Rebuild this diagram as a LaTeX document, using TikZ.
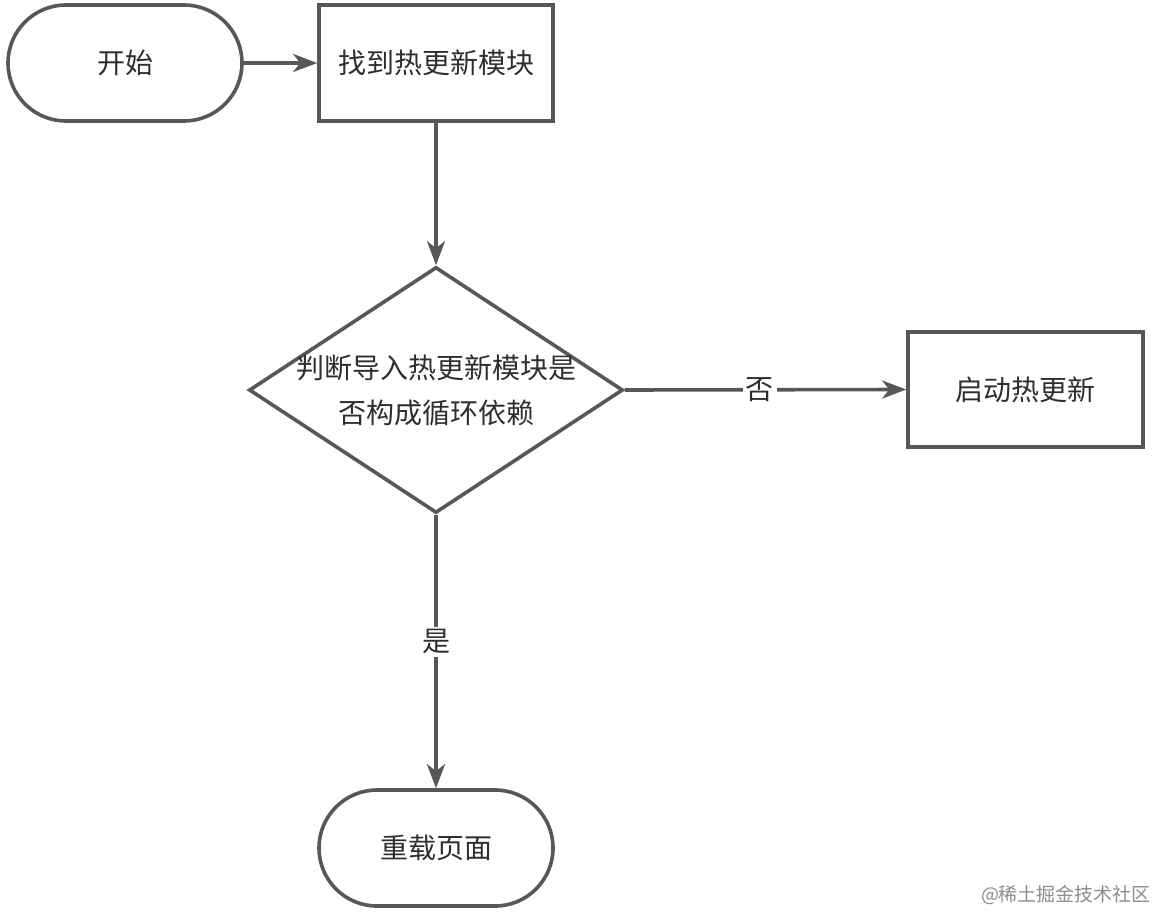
\documentclass[tikz,border=0pt]{standalone}
\usepackage{fontspec}
\setmainfont{Noto Sans CJK SC}
\usetikzlibrary{shapes.geometric,arrows.meta}
\definecolor{linegray}{HTML}{575757}
\definecolor{textgray}{HTML}{2E2E2E}

\begin{document}
\begin{tikzpicture}[x=1pt,y=-1pt,line width=3.6pt]
\tikzstyle{every node}=[font=\fontsize{28}{45}\selectfont, text=textgray]
\tikzstyle{terminal}=[draw=linegray, rectangle, rounded corners=58pt, minimum width=234pt, minimum height=116pt, inner sep=0pt]
\tikzstyle{process}=[draw=linegray, rectangle, minimum width=234pt, minimum height=116pt, inner sep=0pt]
\tikzstyle{decision}=[draw=linegray, diamond, aspect=1.52, minimum width=374pt, minimum height=246pt, inner sep=-6pt, align=center]
\tikzstyle{arrow}=[draw=linegray, -{Stealth[length=24pt,width=18pt,inset=7pt]}]
\tikzstyle{branch}=[fill=white, inner sep=3pt]

\useasboundingbox (0,0) rectangle (1154,912);

\node[terminal] (start) at (125,63) {开始};
\node[process] (find) at (436,63) {找到热更新模块};
\node[decision] (check) at (436,390) {判断导入热更新模块是\\否构成循环依赖};
\node[process] (hot) at (1025.5,389.5) [minimum width=235pt, minimum height=115pt] {启动热更新};
\node[terminal] (reload) at (436,848) {重载页面};

\draw[arrow] (start) -- (find);
\draw[arrow] (find) -- (check);
\draw[arrow] (check.east) -- node[branch, pos=0.48] {否} (hot.west);
\draw[arrow] (check.south) -- node[branch, pos=0.465] {是} (reload.north);

% watermark
\node[font=\fontsize{19}{20}\selectfont, text=black!45] (mark) at (1066,895) {@稀土掘金技术社区};
\end{tikzpicture}
\end{document}
